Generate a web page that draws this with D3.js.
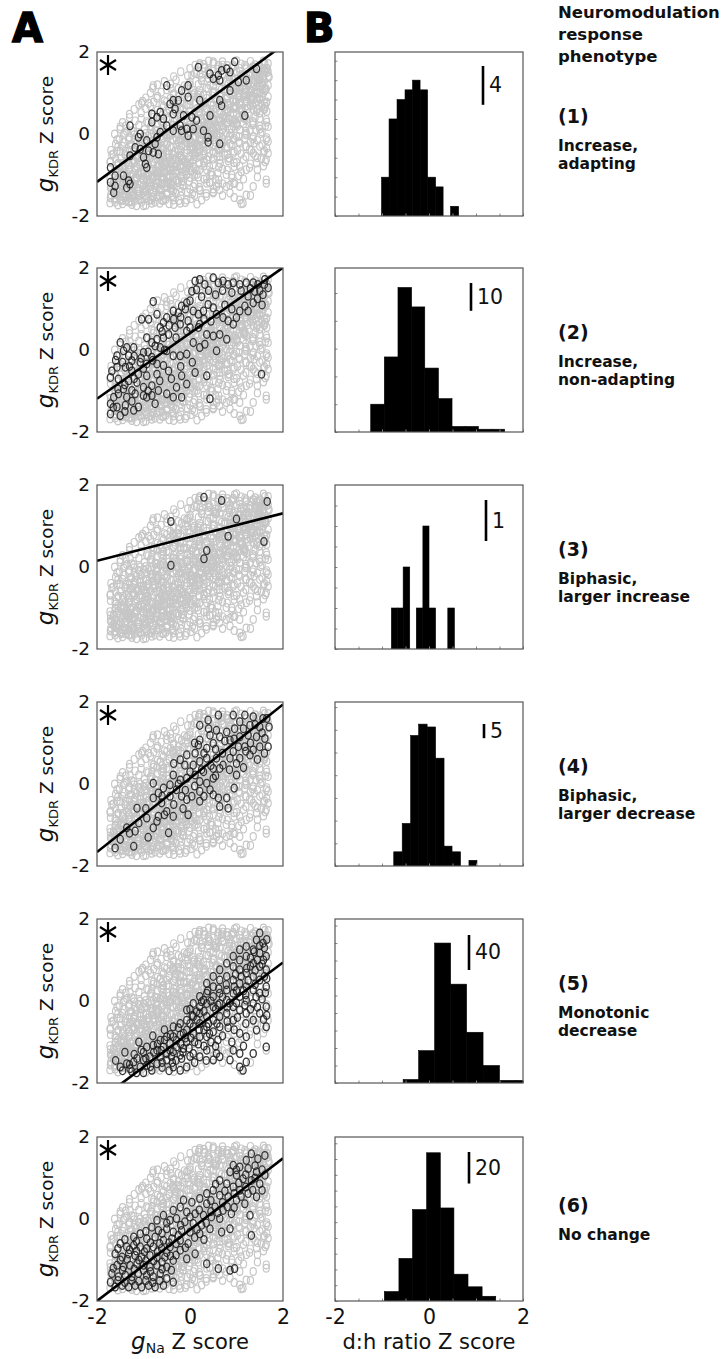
<!DOCTYPE html>
<html>
<head>
<meta charset="UTF-8">
<script src="https://d3js.org/d3.v7.min.js"></script>
<style>
  body { margin: 0; background: #fff; }
  text { font-family: "DejaVu Sans", sans-serif; }
</style>
</head>
<body>
<div id="chart"></div>
<script>
// ---- data ----
const phenoNum = ["(1)", "(2)", "(3)", "(4)", "(5)", "(6)"];
const phenoName = [["Increase,", "adapting"], ["Increase,", "non-adapting"], ["Biphasic,", "larger increase"],
                   ["Biphasic,", "larger decrease"], ["Monotonic", "decrease"], ["No change"]];
const significant = [true, true, false, true, true, true];

// regression line per phenotype: y = intercept + slope * x
const fitSlope = [0.834, 0.80, 0.29, 0.90, 0.85, 0.87];
const fitIntercept = [0.50, 0.41, 0.73, 0.14, -0.76, -0.26];

// models of each phenotype, [gNa z, gKDR z]
const pts1 = [[0.18,1.63],[0.96,1.76],[0.79,1.59],[0.68,1.55],[0.86,1.51],[0.61,1.43],[0.43,1.47],[0.50,1.35],[0.64,1.31],[1.43,1.59],
  [1.21,1.31],[1.04,1.27],[0.86,1.06],[-0.50,1.18],[-0.04,1.18],[-0.18,1.06],[-0.04,0.90],[0.21,0.82],[-0.36,0.82],[-0.25,0.82],
  [-0.43,0.73],[-0.32,0.61],[0.64,0.82],[0.68,0.69],[0.43,0.45],[1.18,0.45],[-0.82,0.49],[-0.64,0.53],[-0.71,0.41],[-0.57,0.37],
  [-0.82,0.29],[-0.36,0.49],[-0.14,0.45],[0.04,0.41],[-0.21,0.20],[-0.07,0.12],[0.07,0.12],[0.14,0.33],[-0.18,0.08],[-0.04,-0.04],
  [-1.29,0.20],[-1.07,0.00],[-1.11,-0.08],[-0.93,-0.16],[-0.64,0.04],[-0.71,-0.08],[-0.75,-0.24],[-0.79,-0.45],[-0.89,-0.41],[-0.68,-0.49],
  [-1.00,-0.57],[-1.07,-0.37],[-1.18,-0.33],[-1.29,-0.53],[-0.96,-0.73],[-0.93,-0.82],[-1.71,-0.82],[-1.61,-1.02],[-1.43,-1.02],[-1.71,-1.18],
  [-1.61,-1.27],[-1.32,-1.14],[-1.36,-1.31],[-1.29,-1.22],[-1.64,-1.43],[0.39,-0.08],[0.39,-0.20],[0.64,-0.24],[-0.50,0.20],[-0.36,0.08],[0.29,0.08]];

const pts2 = [[-0.79,1.18],[-1.04,0.75],[-0.89,0.75],[-0.71,0.87],[-0.57,0.67],[-0.64,0.55],[-0.50,0.79],[-0.36,0.95],[-0.25,0.91],[-0.18,1.07],
  [-0.07,1.15],[0.04,1.43],[0.11,1.68],[0.21,1.72],[0.32,1.60],[0.14,1.47],[0.50,1.76],[0.61,1.64],[0.71,1.68],[0.82,1.60],
  [0.93,1.64],[1.07,1.60],[1.21,1.64],[1.36,1.64],[1.46,1.60],[1.61,1.72],[1.68,1.52],[1.57,1.35],[1.39,1.43],[1.25,1.31],
  [1.36,1.15],[1.18,1.07],[1.07,0.95],[1.00,0.79],[0.93,0.63],[0.82,0.71],[0.71,0.79],[0.57,0.87],[0.50,1.03],[0.39,1.11],
  [0.29,0.95],[0.18,0.87],[0.07,0.95],[-0.04,0.71],[-0.07,0.46],[0.18,0.55],[0.36,0.38],[0.50,0.34],[0.64,0.38],[0.79,0.26],
  [0.57,-0.02],[0.21,0.63],[-0.21,0.63],[-0.32,0.55],[-0.46,0.38],[-0.57,0.30],[-0.71,0.26],[-0.82,0.18],[-0.93,0.30],[-0.64,0.06],
  [-0.50,-0.02],[-0.36,-0.14],[-0.21,-0.14],[-0.07,-0.10],[0.07,0.18],[0.32,0.14],[0.21,0.06],[-0.82,-0.18],[-1.00,-0.06],[-1.21,0.06],
  [-1.36,0.06],[-1.50,0.18],[-1.43,-0.02],[-1.57,-0.14],[-1.32,-0.14],[-1.25,-0.26],[-1.07,-0.30],[-0.93,-0.34],[-0.71,-0.34],[-0.57,-0.38],
  [-0.46,-0.51],[-0.71,-0.59],[-0.93,-0.63],[-1.11,-0.59],[-1.25,-0.51],[-1.39,-0.42],[-1.57,-0.42],[-1.68,-0.51],[-1.71,-0.67],[-1.54,-0.71],
  [-1.32,-0.75],[-1.14,-0.79],[-1.00,-0.91],[-0.82,-0.87],[-0.68,-0.99],[-0.50,-1.07],[-0.36,-1.15],[-0.18,-1.15],[-0.29,-0.91],[-0.07,-0.83],
  [0.11,-0.55],[0.36,-0.63],[-0.18,-0.63],[-1.18,-1.07],[-1.00,-1.11],[-0.82,-1.11],[-1.36,-1.15],[-1.54,-1.07],[-1.64,-1.15],[-1.71,-1.31],
  [-1.57,-1.39],[-1.39,-1.35],[-1.21,-1.47],[-1.50,-1.60],[-1.71,-1.56],[-1.11,-1.39],[-0.93,-1.15],[0.43,-1.19],[1.54,-0.59],[-1.43,-0.95],
  [-1.25,-0.99],[-0.75,-1.31],
  [-1.60,-0.25],[-1.45,-0.30],[-1.30,-0.40],[-1.20,-0.15],[-1.05,-0.20],[-0.90,-0.05],[-0.75,0.10],[-0.60,0.45],[-0.45,0.60],[-0.35,0.75],
  [-0.20,0.80],[-0.10,1.00],[0.00,1.20],[0.25,1.30],[0.40,1.45],[0.55,1.35],[0.70,1.45],[0.90,1.40],[1.10,1.45],[1.30,1.50],
  [1.50,1.45],[1.60,1.60],[1.45,1.25],[1.55,1.10],[1.25,0.95],[0.90,1.00],[0.75,1.10],[0.45,0.70],[0.30,0.75],[0.00,0.55],
  [-0.30,0.30],[-0.55,0.00],[-0.80,-0.25],[-1.00,-0.45],[-1.20,-0.70],[-1.40,-0.85],[-1.55,-0.95],[-1.65,-1.40],[-1.40,-1.50],[-1.25,-1.25],
  [-0.90,-1.00],[-0.65,-0.75],[-0.40,-0.70],[-0.20,-0.40],[0.05,-0.30]];

const pts3 = [[0.30,1.70],[0.68,1.62],[1.66,1.60],[-0.41,1.11],[1.00,1.17],[0.82,0.75],[1.59,0.62],[0.36,0.40],[0.30,0.20],[-0.41,0.04]];

const pts4 = [[0.21,1.43],[0.39,1.56],[0.61,1.68],[0.93,1.68],[1.18,1.68],[1.36,1.64],[1.57,1.60],[1.70,1.39],[1.50,1.39],[1.29,1.43],
  [1.07,1.52],[0.96,1.35],[0.79,1.27],[0.57,1.31],[0.43,1.19],[0.21,1.07],[0.18,0.95],[0.36,0.87],[0.50,0.99],[0.64,1.15],
  [0.86,1.07],[1.07,1.15],[1.25,1.19],[1.43,1.15],[1.61,1.11],[1.68,0.91],[1.50,0.91],[1.36,0.83],[1.18,0.91],[1.04,0.91],
  [0.93,0.79],[0.86,0.63],[1.07,0.63],[1.29,0.71],[0.11,0.75],[-0.07,0.71],[-0.11,0.46],[-0.21,0.59],[0.07,0.46],[0.21,0.55],
  [0.36,0.63],[0.57,0.63],[0.71,0.46],[0.50,0.38],[0.29,0.30],[0.11,0.22],[-0.07,0.14],[-0.21,0.10],[-0.36,0.22],[-0.43,-0.02],
  [-0.57,-0.10],[-0.68,-0.22],[-0.79,0.02],[-0.79,-0.34],[-0.61,-0.46],[-0.50,-0.67],[-0.71,-0.91],[-0.79,-1.07],[-0.68,-0.79],[-0.43,-0.30],
  [-0.29,-0.14],[-0.18,-0.30],[-0.07,-0.38],[0.04,-0.30],[0.21,0.06],[0.36,0.02],[0.43,-0.14],[0.21,-0.42],[0.50,-0.26],[0.61,-0.34],
  [0.64,-0.55],[0.79,-0.34],[0.82,-0.59],[0.64,0.38],[1.00,0.22],[0.50,0.14],[-1.14,-0.59],[-1.18,-1.15],[-1.21,-1.52],[-1.61,-1.56],
  [-1.36,-1.07],[-0.46,-1.19],[-0.04,-0.75],[-0.36,-0.79],[-0.93,-0.83],[0.21,-0.18],
  [-1.50,-1.35],[-1.30,-1.20],[-1.10,-0.95],[-0.95,-0.60],[-0.90,-1.30],[-0.60,-0.30],[-0.55,-0.75],[-0.35,-0.50],[-0.25,0.00],[-0.10,-0.15],
  [0.00,0.30],[0.10,-0.05],[0.25,0.35],[0.30,0.75],[0.45,0.45],[0.55,0.20],[0.55,0.85],[0.70,0.75],[0.75,1.05],[0.85,0.35],
  [0.95,1.10],[1.00,0.50],[1.15,1.35],[1.20,0.80],[1.30,1.00],[1.40,1.45],[1.45,0.60],[1.55,1.25],[1.60,0.75],[1.65,1.60],
  [0.40,1.35],[0.10,1.00],[-0.35,0.50],[0.95,-0.10],[1.15,0.40],[0.30,-0.30],[-0.15,-0.60]];

const pts5 = [[-1.50,-1.61],[-1.36,-1.53],[-1.21,-1.49],[-1.07,-1.61],[-0.93,-1.57],[-0.82,-1.69],[-0.71,-1.53],[-1.00,-1.44],[-0.86,-1.36],[-1.14,-1.40],
  [-1.29,-1.65],[-0.64,-1.36],[-0.50,-1.44],[-0.36,-1.61],[-0.21,-1.69],[-0.07,-1.61],[-0.50,-1.28],[-0.36,-1.24],[-0.21,-1.32],[-0.71,-1.20],
  [-0.57,-1.12],[-0.43,-1.04],[-0.29,-1.12],[-0.14,-1.16],[-0.07,-1.00],[-0.93,-1.12],[-0.79,-1.08],[-0.64,-0.96],[-0.50,-0.87],[-0.36,-0.87],
  [-0.21,-0.83],[-0.07,-0.71],[0.07,-0.79],[0.21,-0.87],[0.36,-0.87],[0.07,-0.63],[0.21,-0.55],[0.36,-0.63],[0.50,-0.75],[0.64,-0.63],
  [0.21,-0.30],[0.36,-0.38],[0.50,-0.47],[0.64,-0.38],[0.79,-0.30],[0.93,-0.47],[-0.36,-0.63],[-0.21,-0.55],[-0.07,-0.47],[0.07,-0.38],
  [0.21,-0.14],[0.36,-0.06],[0.50,-0.14],[0.64,-0.06],[0.79,0.02],[0.93,-0.14],[1.07,-0.22],[1.21,-0.30],[-0.07,-0.22],[0.07,-0.06],
  [0.21,0.11],[0.36,0.19],[0.50,0.11],[0.64,0.19],[0.79,0.27],[0.93,0.19],[1.07,0.11],[1.21,0.02],[1.36,-0.06],[0.50,0.35],
  [0.64,0.51],[0.79,0.60],[0.93,0.51],[1.07,0.43],[1.21,0.35],[1.36,0.27],[1.50,0.19],[0.93,0.84],[1.07,0.76],[1.21,0.68],
  [1.36,0.60],[1.50,0.51],[1.64,0.35],[1.07,1.00],[1.21,1.09],[1.36,0.92],[1.50,0.84],[1.64,0.76],[1.21,1.33],[1.36,1.25],
  [1.50,1.17],[1.64,1.09],[1.43,1.49],[1.57,1.41],[1.50,1.66],[1.07,1.25],[0.93,1.09],[0.79,0.92],[0.64,0.76],[0.50,0.60],
  [0.36,0.43],[0.29,0.02],[0.14,-0.26],[0.00,-0.55],[-0.14,-0.79],[-0.29,-0.96],[-0.43,-1.20],[1.36,-0.47],[1.50,-0.30],[1.64,-0.14],
  [1.43,-0.71],[1.64,-0.63],[1.07,-0.79],[1.21,-0.87],[1.07,-1.28],[0.86,-1.44],[0.64,-1.36],[0.50,-1.44],[1.07,-1.61],[1.21,-1.49],
  [1.36,-1.28],[1.64,-1.12],[0.57,-1.28],[0.93,-1.20],[0.21,-1.36],[0.36,-1.20],[0.07,-1.28],[1.14,-1.69],
  [-1.20,-1.30],[-1.00,-1.25],[-0.60,-1.50],[-0.30,-1.45],[0.00,-1.35],[-0.10,-0.90],[0.10,-1.00],[0.30,-0.70],[0.45,-1.00],[0.00,-0.20],
  [0.15,-0.45],[0.30,-0.25],[0.45,0.00],[0.55,-0.20],[0.70,0.10],[0.85,-0.05],[0.95,0.35],[1.10,0.60],[1.25,0.50],[1.40,0.40],
  [1.55,0.90],[1.65,0.55],[1.30,1.05],[1.45,1.00],[1.60,1.30],[1.15,0.25],[1.00,-0.05],[1.30,-0.20],[1.55,0.05],[1.65,-0.35],
  [0.80,-0.50],[0.95,-0.70],[1.20,-0.55],[0.60,-0.95],[0.30,-1.10],[-0.55,-0.70],[-0.80,-0.85],[-1.10,-1.00],[-1.40,-1.25],[-1.60,-1.45],
  [-1.30,-1.55],[-1.25,-1.72],[-1.00,-1.75],[-0.95,-1.40],[-1.05,-1.20],[-0.78,-1.25],[-0.85,-1.60],[-0.70,-1.05],[-0.60,-1.62],[-0.62,-1.20],
  [-0.55,-0.95],[-0.40,-1.35],[-0.42,-0.82],[-0.38,-1.50],[-0.20,-1.05],[-0.25,-0.65],[-0.18,-1.40],[0.02,-0.90],[-0.02,-1.15],[0.05,-0.35],
  [0.20,-0.70],[0.18,-1.05],[0.25,-0.02],[0.40,-0.55],[0.42,-0.80],[0.38,0.25],[0.60,-0.10],[0.58,-0.55],[0.62,0.30],[0.80,-0.15],
  [0.78,0.40],[0.82,-0.65],[1.00,0.25],[1.02,-0.40],[0.98,0.65],[1.20,0.15],[1.22,0.80],[1.18,-0.10],[1.40,0.75],[1.42,0.10],
  [1.38,1.20],[1.60,0.60],[1.62,0.20],[1.58,1.00],[1.65,1.50],[1.50,1.35],[1.30,0.85],[1.45,-0.15],[1.58,-0.45],[0.70,-0.85],
  [0.90,-1.00],[0.55,-1.10],[1.15,-1.10],[0.35,-1.45],[0.10,-1.50],[-0.15,-1.25],[-0.45,-1.70],[-1.15,-1.75],[-1.45,-1.70]];

const pts6 = [[-1.71,-1.54],[-1.61,-1.66],[-1.46,-1.62],[-1.32,-1.66],[-1.18,-1.62],[-1.04,-1.66],[-0.89,-1.62],[-0.75,-1.66],[-0.57,-1.62],[-0.36,-1.54],
  [-1.68,-1.33],[-1.54,-1.41],[-1.39,-1.37],[-1.25,-1.41],[-1.11,-1.33],[-0.93,-1.37],[-0.79,-1.41],[-0.64,-1.33],[-1.57,-1.13],[-1.43,-1.17],
  [-1.29,-1.13],[-1.14,-1.09],[-1.00,-1.13],[-0.86,-1.17],[-0.71,-1.13],[-0.50,-1.17],[-1.61,-0.85],[-1.46,-0.93],[-1.32,-0.85],[-1.18,-0.89],
  [-1.04,-0.93],[-0.86,-0.89],[-0.71,-0.93],[-0.54,-0.93],[-0.36,-1.01],[-1.50,-0.60],[-1.36,-0.68],[-1.21,-0.64],[-1.07,-0.68],[-0.93,-0.72],
  [-0.79,-0.68],[-0.61,-0.72],[-0.43,-0.68],[-0.21,-0.76],[-1.21,-0.44],[-1.07,-0.36],[-0.93,-0.48],[-0.75,-0.44],[-0.57,-0.52],[-0.39,-0.48],
  [-0.21,-0.52],[-0.04,-0.60],[-0.82,-0.20],[-0.68,-0.28],[-0.50,-0.24],[-0.36,-0.32],[-0.18,-0.28],[0.00,-0.32],[0.21,-0.36],[-0.71,-0.03],
  [-0.57,0.09],[-0.43,-0.03],[-0.29,0.01],[-0.11,-0.07],[0.07,-0.11],[0.25,-0.15],[0.43,-0.24],[-0.36,0.21],[-0.21,0.29],[-0.07,0.17],
  [0.11,0.13],[0.29,0.09],[0.46,0.05],[0.64,0.01],[-0.14,0.46],[0.04,0.41],[0.21,0.50],[0.36,0.37],[0.54,0.29],[0.71,0.21],
  [0.89,0.13],[0.36,0.62],[0.50,0.70],[0.64,0.58],[0.82,0.54],[1.00,0.46],[1.18,0.37],[0.64,0.94],[0.79,0.86],[0.93,0.78],
  [1.07,0.70],[1.25,0.62],[1.43,0.54],[0.86,1.15],[1.00,1.07],[1.14,0.98],[1.32,0.94],[1.50,0.86],[1.07,1.27],[1.25,1.23],
  [1.43,1.15],[1.61,1.07],[1.32,1.59],[1.46,1.47],[1.61,1.55],[1.21,1.43],[0.93,1.31],[-0.07,-0.97],[0.11,-0.85],[0.36,-1.09],
  [0.61,-1.21],[0.86,-1.25],[0.96,-1.21],[1.29,0.09],[1.32,-0.40],[0.68,-0.32],[0.86,-0.24],
  [-1.55,-1.50],[-1.40,-1.55],[-1.25,-1.50],[-1.10,-1.52],[-0.95,-1.50],[-0.80,-1.55],[-0.65,-1.50],[-0.50,-1.45],[-1.65,-1.20],[-1.45,-1.25],
  [-1.20,-1.22],[-1.00,-1.25],[-0.85,-1.28],[-0.60,-1.22],[-0.40,-1.25],[-1.50,-1.00],[-1.35,-0.98],[-1.10,-1.00],[-0.95,-1.02],[-0.78,-1.02],
  [-0.60,-1.05],[-0.42,-0.90],[-1.55,-0.72],[-1.30,-0.75],[-1.15,-0.78],[-0.98,-0.80],[-0.70,-0.80],[-0.50,-0.82],[-0.30,-0.88],[-1.40,-0.50],
  [-1.15,-0.55],[-0.85,-0.58],[-0.65,-0.60],[-0.45,-0.58],[-0.30,-0.60],[-0.10,-0.70],[-0.95,-0.30],[-0.60,-0.35],[-0.25,-0.40],[0.10,-0.45],
  [0.30,-0.50],[-0.50,-0.10],[-0.20,-0.15],[0.15,-0.25],[0.35,-0.10],[0.00,0.05],[0.20,0.22],[0.45,0.18],[0.60,0.15],[0.80,0.30],
  [0.95,0.28],[0.45,0.45],[0.70,0.40],[1.10,0.55],[0.55,0.85],[0.75,0.68],[0.95,0.62],[1.20,0.78],[1.35,0.70],[1.05,0.88],
  [1.20,1.08],[1.40,1.00],[1.55,1.20],[1.40,1.30],[1.55,0.70],[1.00,1.20]];

// models with none of the phenotypes above (grey background only)
const ptsOther = [
  [-1.72,-1.68],[-1.55,-1.73],[-1.25,-1.66],[-0.95,-1.74],[-0.65,-1.69],[-0.35,-1.72],[-0.10,-1.67],[0.15,-1.71],
  [-1.70,-1.48],[-1.45,-1.52],[-1.10,-1.47],[-0.80,-1.53],[-0.50,-1.49],[-0.20,-1.51],[0.05,-1.46],[0.35,-1.52],
  [-1.62,-1.31],[-1.30,-1.27],[-0.98,-1.33],[-0.70,-1.29],[-0.42,-1.32],[-0.15,-1.26],[0.20,-1.30],[0.50,-1.34],[0.78,-1.28],
  [-1.72,-1.09],[-1.40,-1.12],[-1.15,-1.07],[-0.88,-1.11],[-0.60,-1.08],[-0.30,-1.13],[0.00,-1.06],[0.30,-1.10],[0.62,-1.12],[0.90,-1.07],
  [-1.60,-0.91],[-1.30,-0.88],[-1.05,-0.93],[-0.75,-0.90],[-0.45,-0.87],[-0.15,-0.92],[0.15,-0.89],[0.45,-0.93],[0.80,-0.88],[1.10,-0.92],[1.45,-0.87],
  [-1.72,-0.69],[-1.45,-0.72],[-1.20,-0.68],[-0.90,-0.71],[-0.60,-0.67],[-0.30,-0.73],[0.00,-0.70],[0.30,-0.66],[0.65,-0.72],[1.00,-0.69],[1.30,-0.73],[1.62,-0.68],
  [-1.65,-0.49],[-1.35,-0.52],[-1.05,-0.47],[-0.78,-0.51],[-0.50,-0.48],[-0.20,-0.53],[0.10,-0.50],[0.42,-0.46],[0.75,-0.52],[1.10,-0.49],[1.40,-0.53],[1.68,-0.47],
  [-1.55,-0.31],[-1.28,-0.27],[-1.00,-0.32],[-0.70,-0.28],[-0.40,-0.33],[-0.10,-0.29],[0.20,-0.27],[0.55,-0.32],[0.90,-0.28],[1.20,-0.31],[1.55,-0.26],
  [-1.52,-0.12],[-1.30,-0.08],[-1.08,-0.11],[-0.85,-0.07],[-0.60,-0.12],[-0.30,-0.09],[0.00,-0.13],[0.35,-0.08],[0.70,-0.11],[1.05,-0.07],[1.35,-0.12],[1.65,-0.09],
  [-1.50,0.12],[-1.25,0.08],[-0.98,0.11],[-0.72,0.07],[-0.45,0.12],[-0.15,0.09],[0.15,0.13],[0.50,0.08],[0.85,0.11],[1.20,0.07],[1.50,0.12],
  [-1.45,0.28],[-1.18,0.32],[-0.90,0.27],[-0.62,0.31],[-0.35,0.29],[-0.05,0.33],[0.30,0.28],[0.65,0.32],[1.00,0.27],[1.35,0.31],[1.65,0.29],
  [-1.30,0.48],[-1.05,0.52],[-0.78,0.47],[-0.50,0.51],[-0.20,0.49],[0.10,0.53],[0.45,0.48],[0.80,0.52],[1.15,0.47],[1.50,0.51],
  [-1.10,0.72],[-0.85,0.68],[-0.60,0.71],[-0.30,0.67],[0.00,0.72],[0.30,0.69],[0.62,0.73],[0.95,0.68],[1.30,0.71],[1.62,0.67],
  [-0.95,0.88],[-0.70,0.92],[-0.42,0.87],[-0.15,0.91],[0.15,0.89],[0.48,0.93],[0.80,0.88],[1.15,0.92],[1.45,0.87],
  [-0.80,1.12],[-0.50,1.08],[-0.25,1.11],[0.05,1.07],[0.35,1.12],[0.68,1.09],[1.00,1.13],[1.30,1.08],[1.62,1.11],
  [-0.55,1.28],[-0.30,1.32],[0.00,1.27],[0.25,1.31],[0.55,1.29],[0.85,1.33],[1.15,1.28],[1.50,1.31],
  [-0.20,1.52],[0.10,1.48],[0.40,1.51],[0.70,1.47],[1.00,1.52],[1.30,1.49],[1.62,1.53],
  [0.20,1.68],[0.50,1.72],[0.80,1.67],[1.10,1.71],[1.40,1.69],[1.68,1.72],
  [0.95,-1.55],[1.10,-1.70],[1.30,-1.50],[1.64,-1.20],[0.70,-1.50],[1.45,-1.05],
  [-1.62,-1.60],[-1.38,-1.62],[-1.10,-1.58],[-0.82,-1.61],[-0.52,-1.59],[-0.24,-1.62],[0.02,-1.58],[0.25,-1.61],
  [-1.58,-1.40],[-1.28,-1.42],[-0.96,-1.38],[-0.66,-1.41],[-0.36,-1.39],[-0.06,-1.42],[0.22,-1.38],[0.50,-1.41],
  [-1.50,-1.20],[-1.22,-1.22],[-0.85,-1.18],[-0.55,-1.21],[-0.25,-1.19],[0.10,-1.22],[0.42,-1.18],[0.70,-1.21],
  [-1.60,-1.00],[-1.28,-1.02],[-1.00,-0.98],[-0.72,-1.01],[-0.45,-0.99],[-0.15,-1.02],[0.15,-0.98],[0.48,-1.01],[0.78,-0.99],[1.05,-1.02],
  [-1.45,-0.80],[-1.18,-0.82],[-0.90,-0.78],[-0.60,-0.81],[-0.30,-0.79],[0.00,-0.82],[0.30,-0.78],[0.62,-0.81],[0.95,-0.79],[1.28,-0.82],[1.58,-0.78],
  [-1.60,-0.60],[-1.32,-0.62],[-1.05,-0.58],[-0.75,-0.61],[-0.45,-0.59],[-0.15,-0.62],[0.15,-0.58],[0.50,-0.61],[0.85,-0.59],[1.15,-0.62],[1.45,-0.58],
  [-1.70,-0.40],[-1.50,-0.42],[-1.20,-0.38],[-0.90,-0.41],[-0.62,-0.39],[-0.32,-0.42],[0.00,-0.38],[0.30,-0.41],[0.62,-0.39],[0.95,-0.42],[1.28,-0.38],[1.60,-0.41],
  [-1.42,-0.20],[-1.15,-0.22],[-0.85,-0.18],[-0.55,-0.21],[-0.25,-0.19],[0.05,-0.22],[0.38,-0.18],[0.72,-0.21],[1.05,-0.19],[1.38,-0.22],[1.68,-0.18],
  [-1.62,0.00],[-1.40,0.02],[-1.20,-0.02],[-0.95,0.01],[-0.72,-0.01],[-0.45,0.02],[-0.15,-0.02],[0.18,0.01],[0.52,-0.01],[0.88,0.02],[1.20,-0.02],[1.52,0.01],
  [-1.38,0.20],[-1.10,0.22],[-0.85,0.18],[-0.58,0.21],[-0.30,0.19],[0.00,0.22],[0.32,0.18],[0.68,0.21],[1.02,0.19],[1.35,0.22],[1.68,0.18],
  [-1.30,0.40],[-1.05,0.38],[-0.78,0.41],[-0.50,0.39],[-0.20,0.42],[0.12,0.38],[0.48,0.41],[0.82,0.39],[1.18,0.42],[1.50,0.38],
  [-1.20,0.60],[-0.95,0.62],[-0.70,0.58],[-0.45,0.61],[-0.15,0.59],[0.15,0.62],[0.45,0.58],[0.78,0.61],[1.12,0.59],[1.45,0.62],
  [-1.02,0.80],[-0.78,0.78],[-0.55,0.81],[-0.28,0.79],[0.00,0.82],[0.32,0.78],[0.65,0.81],[0.98,0.79],[1.32,0.82],[1.65,0.78],
  [-0.85,1.00],[-0.62,1.02],[-0.35,0.98],[-0.05,1.01],[0.22,0.99],[0.52,1.02],[0.85,0.98],[1.18,1.01],[1.50,0.99],
  [-0.70,1.20],[-0.42,1.22],[-0.12,1.18],[0.18,1.21],[0.50,1.19],[0.82,1.22],[1.15,1.18],[1.45,1.21],[1.68,1.19],
  [-0.35,1.40],[-0.05,1.42],[0.25,1.38],[0.55,1.41],[0.85,1.39],[1.15,1.42],[1.45,1.38],[1.68,1.41],
  [0.00,1.60],[0.30,1.62],[0.60,1.58],[0.90,1.61],[1.20,1.59],[1.50,1.62],
  [0.40,1.78],[0.70,1.76],[1.00,1.79],[1.30,1.77],[1.58,1.78]];

// d:h ratio histograms: bin edges and counts
const histEdges = [
  [-1.01,-0.85,-0.68,-0.51,-0.35,-0.19,-0.03,0.14,0.30,0.46,0.63],
  [-1.24,-0.95,-0.66,-0.37,-0.09,0.20,0.49,0.77,1.05,1.33,1.61],
  [-0.80,-0.67,-0.55,-0.41,-0.27,-0.13,0.00,0.14,0.27,0.40,0.54],
  [-0.75,-0.57,-0.39,-0.22,-0.04,0.14,0.32,0.49,0.67,0.85,1.02],
  [-0.55,-0.22,0.12,0.46,0.80,1.15,1.50,1.84,2.18],
  [-0.95,-0.64,-0.35,-0.05,0.24,0.53,0.83,1.13,1.42]];
const histCounts = [
  [4,10,12,13,14,13,4,3,0,1],
  [10,27,52,45,23,12,2,2,1,1],
  [1,1,2,0,1,3,1,0,0,1],
  [5,15,46,50,49,38,7,5,0,2],
  [4,37,160,113,58,20,3,3],
  [6,27,58,94,59,17,9,3]];
const histMax = [16.9, 59, 4.0, 57.8, 187.5, 104];
const histTickStep = [2, 10, 0.5, 8, 20, 10];
const scaleBar = [4, 10, 1, 5, 40, 20];

// ---- layout ----
const rowTop = [52, 268, 485, 702, 919, 1137];
const PH = 164;
const SX = 97, SW = 186;        // scatter frame
const HX = 335, HW = 188;       // histogram frame
const barX = [148, 136, 151, 149, 134, 134];
const barTop = [14, 15, 15, 22, 16, 15];
const TX = 558;

const svg = d3.select("#chart").append("svg")
  .attr("width", 727).attr("height", 1359);
const defs = svg.append("defs");

const grayAll = ptsOther.concat(pts1, pts2, pts3, pts4, pts5, pts6);
const blackPts = [pts1, pts2, pts3, pts4, pts5, pts6];

const x = d3.scaleLinear().domain([-2, 2]).range([0, SW]);
const y = d3.scaleLinear().domain([-2, 2]).range([PH, 0]);
const hx = d3.scaleLinear().domain([-2, 2]).range([0, HW]);
const fmt = d => String(d);

// panel letters
[["A", 12], ["B", 304]].forEach(([t, lx]) => {
  svg.append("text").attr("x", lx).attr("y", 42).attr("font-size", 40).attr("font-weight", "bold")
    .attr("stroke", "#000").attr("stroke-width", 1.4).text(t);
});

// header
["Neuromodulation", "response", "phenotype"].forEach((t, k) => {
  svg.append("text").attr("x", TX).attr("y", 18 + k * 22)
    .attr("font-size", 16.5).attr("font-weight", "bold").attr("fill", "#111").text(t);
});

rowTop.forEach((top, i) => {
  // ---------- scatter ----------
  defs.append("clipPath").attr("id", "clipS" + i)
    .append("rect").attr("width", SW).attr("height", PH);
  const g = svg.append("g").attr("transform", `translate(${SX},${top})`);

  g.append("g").selectAll("ellipse").data(grayAll).join("ellipse")
    .attr("cx", d => x(d[0])).attr("cy", d => y(d[1]))
    .attr("rx", 3.1).attr("ry", 3.9)
    .attr("fill", "none").attr("stroke", "#c6c6c6").attr("stroke-width", 1.15);

  g.append("g").selectAll("ellipse").data(blackPts[i]).join("ellipse")
    .attr("cx", d => x(d[0])).attr("cy", d => y(d[1]))
    .attr("rx", 3.1).attr("ry", 3.9)
    .attr("fill", "none").attr("stroke", "#1a1a1a").attr("stroke-opacity", 0.85).attr("stroke-width", 1.25);

  g.append("line").attr("clip-path", `url(#clipS${i})`)
    .attr("x1", x(-2)).attr("y1", y(fitIntercept[i] - 2 * fitSlope[i]))
    .attr("x2", x(2)).attr("y2", y(fitIntercept[i] + 2 * fitSlope[i]))
    .attr("stroke", "#000").attr("stroke-width", 2.6);

  g.append("rect").attr("width", SW).attr("height", PH)
    .attr("fill", "none").attr("stroke", "#555").attr("stroke-width", 1.2);

  if (significant[i]) {
    const cx = 11, cy = 13;
    g.append("path")
      .attr("d", `M${cx},${cy - 10}V${cy + 10}M${cx - 8},${cy - 5}L${cx + 8},${cy + 5}M${cx - 8},${cy + 5}L${cx + 8},${cy - 5}`)
      .attr("stroke", "#000").attr("stroke-width", 2.2).attr("fill", "none");
  }

  // y axis labels
  g.append("g").call(d3.axisLeft(y).tickValues([-2, 0, 2]).tickSize(0).tickPadding(7).tickFormat(fmt))
    .call(a => a.select(".domain").remove())
    .selectAll("text").attr("font-size", 18.5).attr("font-family", "DejaVu Sans").attr("fill", "#111");

  const yl = svg.append("text")
    .attr("transform", `translate(53,${top + PH / 2}) rotate(-90)`)
    .attr("text-anchor", "middle").attr("fill", "#111");
  yl.append("tspan").attr("font-size", 23).attr("font-style", "italic").text("g");
  yl.append("tspan").attr("font-size", 13).attr("dy", 5).text("KDR");
  yl.append("tspan").attr("font-size", 18.5).attr("dy", -5).text(" Z score");

  // ---------- histogram ----------
  defs.append("clipPath").attr("id", "clipH" + i)
    .append("rect").attr("width", HW).attr("height", PH);
  const h = svg.append("g").attr("transform", `translate(${HX},${top})`);
  const hy = d3.scaleLinear().domain([0, histMax[i]]).range([PH, 0]);
  const bins = histCounts[i].map((n, j) => ({ x0: histEdges[i][j], x1: histEdges[i][j + 1], n }));

  h.append("g").attr("clip-path", `url(#clipH${i})`)
    .selectAll("rect").data(bins.filter(d => d.n > 0)).join("rect")
    .attr("x", d => hx(d.x0)).attr("width", d => hx(d.x1) - hx(d.x0))
    .attr("y", d => hy(d.n)).attr("height", d => PH - hy(d.n))
    .attr("fill", "#000").attr("stroke", "#000").attr("stroke-width", 0.6);

  h.append("g").call(d3.axisLeft(hy).tickValues(d3.range(0, histMax[i], histTickStep[i])).tickSize(-2.5).tickFormat(""))
    .call(a => a.select(".domain").remove())
    .selectAll("line").attr("stroke", "#888");
  h.append("g").attr("transform", `translate(0,${PH})`)
    .call(d3.axisBottom(hx).tickValues(d3.range(-2, 2.01, 0.5)).tickSize(-2.5).tickFormat(""))
    .call(a => a.select(".domain").remove())
    .selectAll("line").attr("stroke", "#888");

  h.append("rect").attr("width", HW).attr("height", PH)
    .attr("fill", "none").attr("stroke", "#555").attr("stroke-width", 1.2);

  // scale bar
  const bTop = barTop[i], bLen = PH - hy(scaleBar[i]);
  h.append("line").attr("x1", barX[i]).attr("x2", barX[i])
    .attr("y1", bTop).attr("y2", bTop + bLen)
    .attr("stroke", "#000").attr("stroke-width", 2.6);
  h.append("text").attr("x", barX[i] + 6).attr("y", bTop + bLen / 2)
    .attr("dominant-baseline", "central").attr("font-size", 20.5).attr("fill", "#111")
    .text(scaleBar[i]);

  // ---------- phenotype text ----------
  const b0 = top + 71 + (2 - phenoName[i].length) * 4;
  svg.append("text").attr("x", TX).attr("y", b0)
    .attr("font-size", 19).attr("font-weight", "bold").attr("fill", "#111").text(phenoNum[i]);
  phenoName[i].forEach((t, k) => {
    svg.append("text").attr("x", TX).attr("y", b0 + 28 + k * 18)
      .attr("font-size", 15.5).attr("font-weight", "bold").attr("fill", "#111").text(t);
  });

  // bottom row axes
  if (i === rowTop.length - 1) {
    g.append("g").attr("transform", `translate(0,${PH})`)
      .call(d3.axisBottom(x).tickValues([-2, 0, 2]).tickSize(0).tickPadding(8).tickFormat(fmt))
      .call(a => a.select(".domain").remove())
      .selectAll("text").attr("font-size", 20.5).attr("font-family", "DejaVu Sans").attr("fill", "#111");
    h.append("g").attr("transform", `translate(0,${PH})`)
      .call(d3.axisBottom(hx).tickValues([-2, 0, 2]).tickSize(0).tickPadding(8).tickFormat(fmt))
      .call(a => a.select(".domain").remove())
      .selectAll("text").attr("font-size", 20.5).attr("font-family", "DejaVu Sans").attr("fill", "#111");

    const xl = svg.append("text").attr("x", SX + SW / 2).attr("y", top + PH + 48)
      .attr("text-anchor", "middle").attr("fill", "#111");
    xl.append("tspan").attr("font-size", 23).attr("font-style", "italic").text("g");
    xl.append("tspan").attr("font-size", 14).attr("dy", 4).text("Na");
    xl.append("tspan").attr("font-size", 21).attr("dy", -4).text(" Z score");

    svg.append("text").attr("x", HX + HW / 2).attr("y", top + PH + 48)
      .attr("text-anchor", "middle").attr("font-size", 21).attr("fill", "#111")
      .text("d:h ratio Z score");
  }
});
</script>
</body>
</html>
